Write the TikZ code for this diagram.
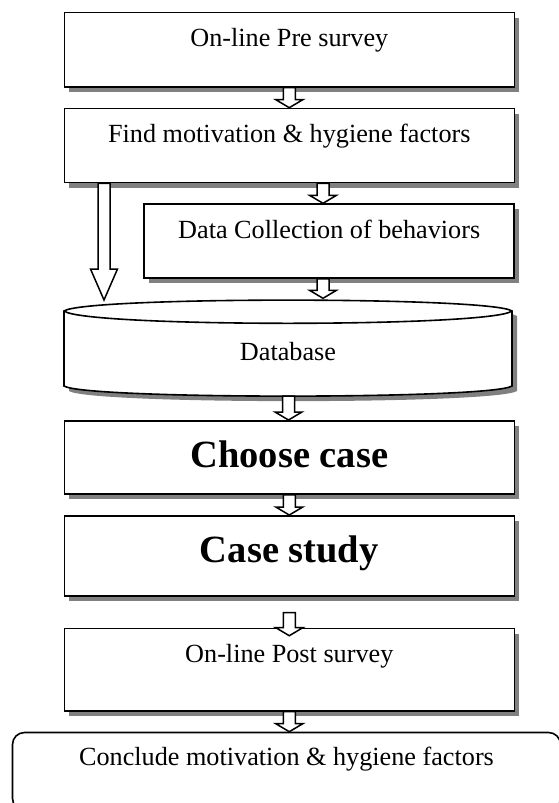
\documentclass[tikz,border=0pt]{standalone}
\usepackage{fontspec}
\setmainfont{Liberation Serif}
\usetikzlibrary{calc,shadows}
\tikzset{%
	process/.style    = {draw, rectangle, fill=white, line width=1.6pt, anchor=north west, minimum width=450pt, inner ysep=0pt, text height=34pt, font=\fontsize{26.2}{30}\selectfont, drop shadow={shadow xshift=5pt, shadow yshift=-5pt, fill=black!50, opacity=1}},
	bigprocess/.style = {process, text height=46.7pt, font=\fontsize{38.5}{44}\selectfont\bfseries},
	terminal/.style   = {draw, rectangle, rounded corners=12pt, fill=white, line width=1.6pt, anchor=north west, minimum width=548pt, inner ysep=0pt, text height=33pt, text depth=45pt, font=\fontsize{26.2}{30}\selectfont},
	dbtext/.style     = {anchor=base, font=\fontsize{26.2}{30}\selectfont},
	blockarr/.style   = {draw, fill=white, line width=1.5pt, line join=miter},
}
\newcommand{\blockarrow}[3][8pt]{%
	\draw[blockarr] let \p1=(#2), \p2=(#3) in
	(\x1-6pt,\y1) -- (\x1-6pt,\y2+#1) -- (\x1-13.5pt,\y2+#1) -- (\x1,\y2)
	-- (\x1+13.5pt,\y2+#1) -- (\x1+6pt,\y2+#1) -- (\x1+6pt,\y1) -- cycle;}

\begin{document}
\begin{tikzpicture}[x=1pt,y=-1pt]
	\useasboundingbox (0,0) rectangle (559,803);
	
	\node[process, text depth=40.3pt] (pre) at (63.5,11.7) {On-line Pre survey};
	\node[process, text depth=40pt] (find) at (63.5,107.7) {Find motivation \& hygiene factors};
	\node[process, minimum width=370pt, text depth=40pt] (data) at (143.4,203.3) {Data Collection of behaviors};
	
	% database cylinder
	\begin{scope}[shift={(5,5)}]
	\fill[black!50] (64,311) .. controls (85,296.5) and (491,296.5) .. (512,311) -- (512,386)
		.. controls (491,399.5) and (85,399.5) .. (64,386) -- cycle;
	\end{scope}
	\filldraw[fill=white, line width=1.6pt] (64,311) .. controls (85,296.5) and (491,296.5) .. (512,311) -- (512,386)
		.. controls (491,399.5) and (85,399.5) .. (64,386) -- cycle;
	\draw[line width=1.6pt] (64,311) .. controls (85,327.4) and (491,327.4) .. (512,311);
	\node[dbtext] (db) at (288,360) {Database};
	\coordinate (dbin) at (323,298.3);
	\coordinate (dbleft) at (104,300);
	\coordinate (dbout) at (288.5,396);
	
	\node[bigprocess, text depth=26.6pt] (choose) at (63.5,420) {Choose case};
	\node[bigprocess, text depth=33.3pt] (case) at (63.5,515) {Case study};
	\node[process, text depth=48.3pt] (post) at (63.5,627.7) {On-line Post survey};
	\node[terminal] (concl) at (11.7,731.7) {Conclude motivation \& hygiene factors};
	
	% block arrows
	\blockarrow{pre.south}{find.north}
	\blockarrow{find.south -| dbin}{data.north -| dbin}
	\blockarrow[31pt]{find.south -| dbleft}{dbleft}
	\blockarrow{data.south -| dbin}{dbin}
	\blockarrow{dbout}{choose.north}
	\blockarrow{choose.south}{case.north}
	\blockarrow{$(case.south)+(0,16)$}{$(post.north)+(0,8)$}
	\blockarrow{post.south}{concl.north}
	
\end{tikzpicture}
\end{document}
